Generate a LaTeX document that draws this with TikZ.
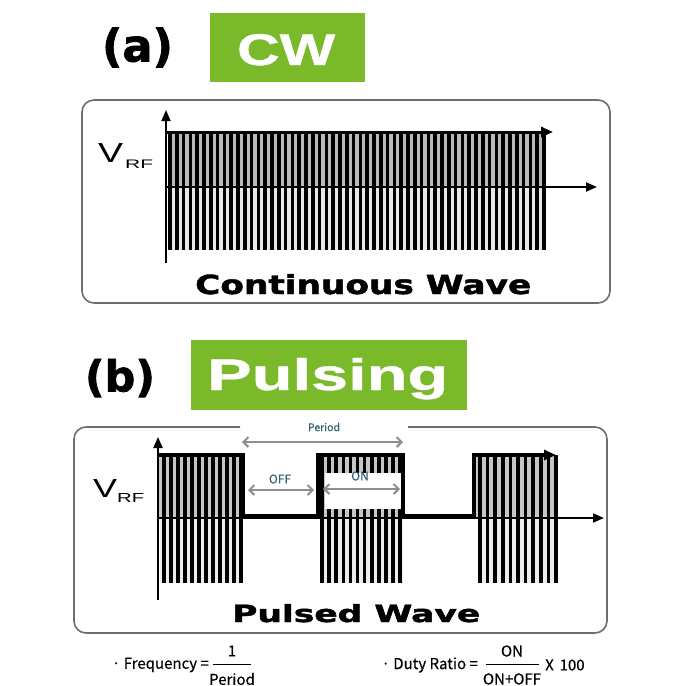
\documentclass[tikz,border=0pt]{standalone}
\usepackage{fontspec}
\usepackage{graphicx}
\usetikzlibrary{arrows.meta}
\newfontfamily\dvfont{DejaVu Sans Bold}[FakeBold=1.6]
\newfontfamily\libfont{Liberation Sans}
\newfontfamily\libbold{Liberation Sans Bold}[FakeBold=0.8]
\newfontfamily\krfont{Noto Sans CJK KR}[FakeBold=0.4]
\definecolor{cwgreen}{HTML}{7AB929}
\definecolor{tealtxt}{HTML}{2F5F70}
\definecolor{framegray}{HTML}{6E6E6E}
\definecolor{dimgray}{HTML}{8E8E8E}
\tikzset{
  frame/.style={draw=framegray, line width=1.6pt, rounded corners=12pt},
  stripe/.style={line width=3.6pt, black},
  axisline/.style={line width=1.8pt, -{Triangle[length=11pt,width=9pt]}},
  envline/.style={line width=3.5pt, line join=miter},
  dimarrow/.style={draw=dimgray, line width=2pt, {Straight Barb[length=5pt,width=10pt]}-{Straight Barb[length=5pt,width=10pt]}},
  lab/.style={inner sep=0pt, anchor=base west},
  greenbox/.style={fill=cwgreen, draw=none},
  formula/.style={inner sep=0pt, font=\krfont\fontsize{15}{17}\selectfont},
  smalllab/.style={inner sep=0pt, text=tealtxt, font=\krfont\fontsize{12}{14}\selectfont}
}
\begin{document}
\begin{tikzpicture}[x=1pt,y=-1pt]
\useasboundingbox (0,0) rectangle (677,686);

% ---------------- (a) CW ----------------
\node[inner sep=0pt] (alabel) at (137.5,47.5) {\resizebox{71pt}{!}{\dvfont (a)}};
\fill[greenbox] (210,13) rectangle (365,82);
\node[lab, text=white] (cwlabel) at (237,65) {\resizebox{98pt}{31pt}{\libbold CW}};

\draw[frame] (82,100) rectangle (610,303);

% fills and stripes
\fill[gray!55] (168,132) rectangle (546,187);
\fill[gray!18] (168,187) rectangle (546,250);
\foreach \i in {0,...,55} {
  \draw[stripe] ({170+\i*6.8},132) -- ({170+\i*6.8},250);
}
\coordinate (aorig) at (166,187);
\coordinate (atop) at (166,110);
\coordinate (abot) at (166,263);
\coordinate (aright) at (597,187);
\coordinate (envA0) at (166,132);
\coordinate (envA1) at (553,132);
\draw[axisline] (abot) -- (atop);
\draw[axisline] (aorig) -- (aright);
\draw[line width=3pt, -{Triangle[length=12pt,width=10pt]}] (envA0) -- (envA1);

\node[lab] (vA) at (98,162) {\resizebox{25pt}{19pt}{\libfont V}};
\node[lab] (rfA) at (125,168.5) {\resizebox{28pt}{8.5pt}{\libfont RF}};

\node[lab] (cwtext) at (195,294) {\resizebox{336pt}{20pt}{\dvfont Continuous Wave}};

% ---------------- (b) Pulsing ----------------
\node[inner sep=0pt] (blabel) at (120,378) {\resizebox{70pt}{!}{\dvfont (b)}};
\fill[greenbox] (191,340) rectangle (467,410);
\node[lab, text=white] (pulslabel) at (207,390) {\resizebox{241pt}{32pt}{\libbold Pulsing}};

\draw[frame] (240,427) -- (74,427) -- (74,633) -- (607,633) -- (607,427) -- (408,427);

% bursts
\fill[gray!45] (159,455) rectangle (243,518);
\fill[gray!45] (318,455) rectangle (403,518);
\fill[gray!45] (474,455) rectangle (558,518);
\fill[gray!15] (160,518) rectangle (243,583);
\fill[gray!15] (320,518) rectangle (403,583);
\fill[gray!15] (478,518) rectangle (558,583);
\foreach \i in {0,...,11} {
  \draw[stripe] ({164+\i*7},455) -- ({164+\i*7},583);
  \draw[stripe] ({322+\i*7.1},455) -- ({322+\i*7.1},583);
}
\foreach \i in {0,...,10} {
  \draw[stripe] ({480+\i*7.6},455) -- ({480+\i*7.6},583);
}
\coordinate (borig) at (158,518);
\coordinate (btop) at (158,437);
\coordinate (bbot) at (158,600);
\coordinate (bright) at (604,518);
\draw[axisline] (bbot) -- (btop);
\draw[axisline] (borig) -- (bright);
\draw[envline, -{Triangle[length=12pt,width=10pt]}]
  (158,455) -- (243,455) -- (243,516) -- (318,516) -- (318,455) -- (403,455)
  -- (403,516) -- (474,516) -- (474,455) -- (556,455);

\node[lab] (vB) at (93,497) {\resizebox{24pt}{18pt}{\libfont V}};
\node[lab] (rfB) at (117,502.5) {\resizebox{27pt}{9pt}{\libfont RF}};

% white box with ON
\fill[white] (325,473) rectangle (401,509);

% dimension arrows
\coordinate (perL) at (242,442);
\coordinate (perR) at (403,442);
\draw[dimarrow] (perL) -- (perR);
\node[smalllab, font=\krfont\fontsize{10.5}{12}\selectfont] (period) at (324,427) {Period};

\coordinate (offL) at (248,490);
\coordinate (offR) at (314,490);
\draw[dimarrow] (offL) -- (offR);
\node[smalllab] (offtxt) at (280,479) {OFF};

\coordinate (onL) at (323,489);
\coordinate (onR) at (400,489);
\draw[dimarrow] (onL) -- (onR);
\node[smalllab] (ontxt) at (360,476) {ON};

\node[lab] (pwtext) at (232,622) {\resizebox{248pt}{18pt}{\dvfont Pulsed Wave}};

% ---------------- formulas ----------------
\node[formula, anchor=east] (freq) at (209,665) {· Frequency =};
\node[formula] (fnum) at (232,651) {1};
\coordinate (fbarL) at (213,664);
\coordinate (fbarR) at (251,664);
\draw[line width=0.8pt] (fbarL) -- (fbarR);
\node[formula] (fden) at (232,679) {Period};

\node[formula, anchor=east] (duty) at (478,665) {· Duty Ratio =};
\node[formula] (dnum) at (512,651) {ON};
\coordinate (dbarL) at (486,664);
\coordinate (dbarR) at (539,664);
\draw[line width=0.8pt] (dbarL) -- (dbarR);
\node[formula, anchor=west] (times) at (545,665) {X\, 100};
\node[formula] (dden) at (512,679) {ON+OFF};
\end{tikzpicture}
\end{document}
